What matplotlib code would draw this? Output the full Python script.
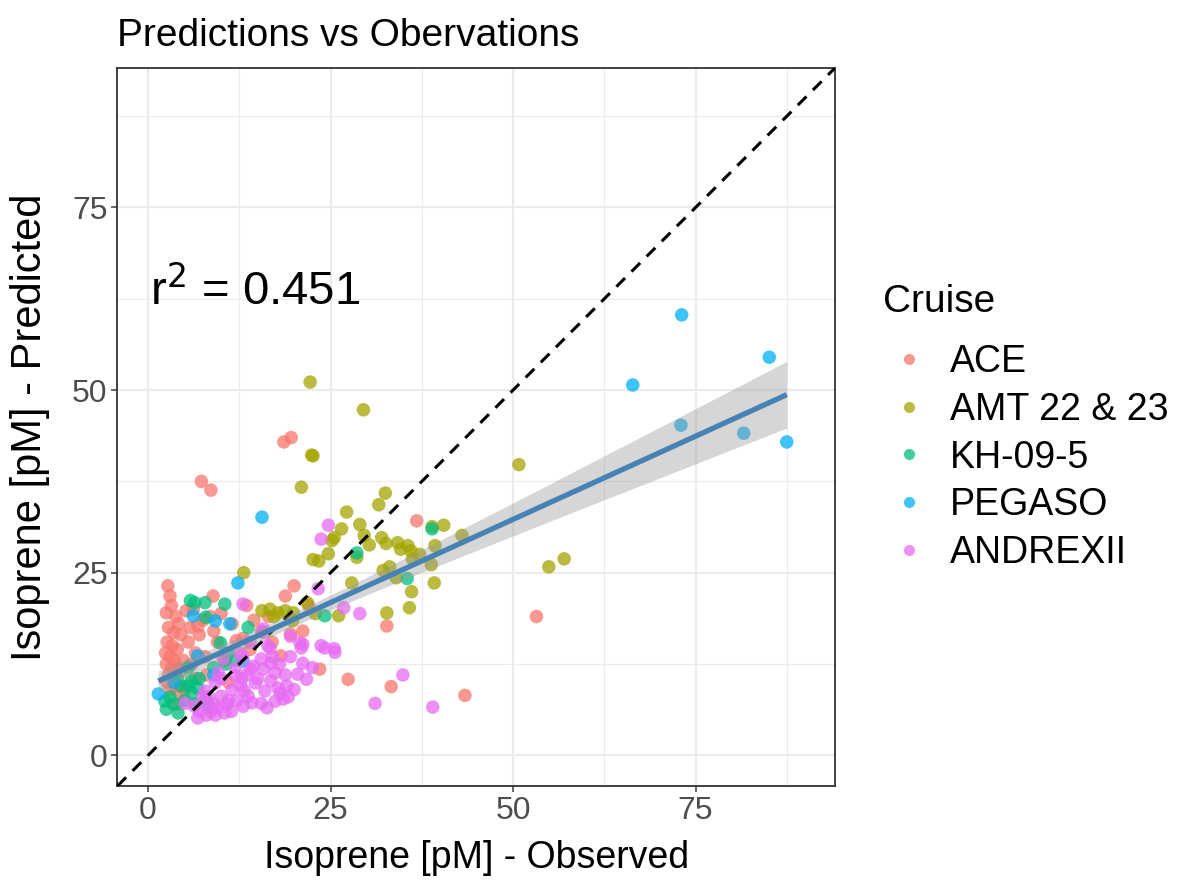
import numpy as np
import matplotlib
matplotlib.use("Agg")
import matplotlib.pyplot as plt
from matplotlib.lines import Line2D

plt.rcParams['font.family'] = ['Liberation Sans', 'DejaVu Sans']

cruises = ["ACE", "AMT 22 & 23", "KH-09-5", "PEGASO", "ANDREXII"]
colors = ["#F8766D", "#A3A500", "#00BF7D", "#00B0F6", "#E76BF3"]

ace_x = [2.7, 3.0, 3.2, 2.5, 3.8, 4.2, 2.8, 3.5, 4.5, 2.6, 3.3, 4.0, 2.4, 3.0, 3.6, 4.8, 2.5, 3.2, 4.0, 2.8,
         3.5, 4.5, 2.6, 3.8, 5.0, 4.2, 3.0, 5.5, 5.8, 6.2, 6.5, 5.2, 6.0, 7.0, 7.5, 8.9, 8.5, 9.0, 9.5, 7.8,
         10.0, 6.8, 11.5, 12.1, 13.0, 13.5, 14.5, 15.5, 17.0, 18.8, 20.0, 21.2, 19.5, 18.2, 23.5, 7.3, 8.6, 18.6, 19.6, 36.8,
         32.7, 27.4, 33.3, 43.4, 53.2, 4.1, 8.0, 10.5, 6.5, 11.0, 14.0, 16.5, 22.0]
ace_y = [23.2, 21.8, 20.5, 19.5, 19.0, 18.0, 17.5, 16.8, 16.5, 15.5, 15.0, 14.5, 14.0, 13.5, 13.0, 13.0, 12.5, 12.0, 12.0, 11.0,
         10.5, 11.5, 10.0, 9.5, 9.0, 8.5, 9.0, 15.5, 17.5, 20.0, 14.0, 19.8, 12.5, 16.5, 18.5, 21.8, 19.0, 17.0, 15.5, 13.5,
         19.4, 17.7, 18.0, 15.7, 16.0, 20.5, 18.5, 17.0, 15.5, 21.8, 23.2, 17.0, 16.6, 13.6, 11.8, 37.5, 36.3, 42.9, 43.5, 32.1,
         17.7, 10.4, 9.4, 8.2, 19.0, 7.0, 11.0, 13.0, 10.5, 10.0, 14.5, 19.0, 20.5]

amt_x = [29.5, 22.4, 22.6, 22.2, 21.0, 32.5, 31.6, 27.2, 29.0, 26.5, 25.5, 25.2, 29.6, 32.0, 32.6, 34.2, 35.6, 36.0, 24.7, 22.6,
         23.4, 28.6, 36.2, 38.9, 40.5, 39.3, 43.0, 38.8, 39.2, 32.2, 33.1, 34.0, 27.9, 36.1, 35.8, 32.7, 26.1, 21.8, 22.9, 50.8,
         54.9, 57.0, 13.1, 15.6, 16.7, 17.8, 18.8, 19.9, 19.8, 17.2, 34.6, 30.3, 37.2]
amt_y = [47.3, 41.1, 41.0, 51.1, 36.7, 35.9, 34.3, 33.3, 31.6, 31.0, 29.8, 29.4, 30.1, 29.8, 29.0, 29.1, 28.7, 28.0, 27.6, 26.8,
         26.6, 27.1, 26.9, 31.3, 31.5, 28.7, 30.1, 26.1, 23.6, 25.3, 25.8, 24.3, 23.6, 22.4, 20.2, 19.5, 19.1, 20.9, 19.4, 39.8,
         25.8, 26.9, 25.0, 19.8, 20.0, 19.5, 19.8, 19.5, 18.4, 19.0, 28.2, 28.8, 27.5]

kh_x = [5.8, 6.4, 7.8, 10.5, 7.9, 9.9, 13.7, 5.5, 10.7, 5.9, 6.8, 2.3, 2.5, 4.1, 7.9, 8.2, 28.6, 35.5, 38.9, 24.2,
        11.0, 12.0, 9.0, 3.0, 4.5, 6.0, 7.0, 3.5, 5.0, 6.5, 4.0, 5.5]
kh_y = [21.2, 20.9, 20.9, 20.7, 18.9, 15.4, 17.5, 12.0, 12.5, 10.2, 9.2, 7.4, 6.3, 5.8, 7.8, 6.7, 27.7, 24.2, 31.0, 19.1,
        14.0, 13.0, 12.0, 8.0, 9.5, 8.5, 10.5, 7.0, 7.5, 7.0, 10.5, 9.5]

peg_x = [15.6, 73.1, 85.1, 66.4, 73.0, 81.6, 87.5, 12.3, 6.2, 9.2, 11.2, 6.8, 1.4, 13.0, 9.0, 3.5]
peg_y = [32.6, 60.3, 54.5, 50.7, 45.2, 44.1, 42.9, 23.6, 19.1, 18.4, 18.0, 13.6, 8.4, 12.9, 11.0, 10.0]

and_x = [13.0, 15.8, 16.7, 23.3, 15.8, 19.5, 20.8, 23.7, 16.4, 24.7, 23.7, 26.8, 29.0, 21.2, 24.2, 25.5, 25.6, 34.9, 31.1, 39.0,
         21.0, 21.2, 20.5, 21.7, 15.5, 16.8, 14.4, 17.4, 16.8, 18.1, 18.5, 17.4, 15.5, 13.0, 11.4, 13.7, 12.7, 14.7, 16.0, 11.9,
         5.1, 6.4, 7.8, 9.2, 10.0, 8.6, 10.5, 6.8, 9.6, 10.3, 12.5, 13.5, 19.0, 18.0, 14.0, 11.0, 12.0, 19.5, 9.0, 22.5,
         8.0, 9.5, 10.8, 12.2, 13.2, 14.2, 15.0, 16.3, 17.8, 19.2, 11.5, 12.8, 14.0, 15.8, 10.0, 8.3, 17.0, 18.8, 20.0, 13.0,
         7.0, 8.0, 9.2, 7.5]
and_y = [20.7, 16.8, 14.7, 22.8, 17.3, 16.3, 15.4, 15.0, 15.0, 31.5, 29.6, 20.2, 19.4, 15.2, 14.7, 14.6, 14.1, 11.0, 7.1, 6.6,
         14.7, 12.6, 11.1, 10.4, 13.2, 12.6, 12.2, 11.3, 10.2, 8.5, 7.7, 7.4, 7.1, 6.7, 6.0, 8.1, 9.5, 9.9, 8.8, 10.9,
         7.1, 6.7, 8.8, 9.9, 8.1, 6.0, 5.8, 5.1, 11.3, 13.2, 14.0, 11.0, 9.5, 12.5, 15.5, 7.5, 12.0, 13.5, 7.0, 12.0,
         5.5, 6.5, 7.0, 7.5, 8.8, 7.2, 10.5, 6.5, 9.2, 8.0, 9.0, 10.5, 11.8, 11.8, 10.5, 8.0, 13.5, 11.0, 9.0, 13.5,
         6.0, 7.2, 5.5, 8.0]

r2_label = "r$^2$ = 0.451"

series_x = [ace_x, amt_x, kh_x, peg_x, and_x]
series_y = [ace_y, amt_y, kh_y, peg_y, and_y]

fig = plt.figure(figsize=(11.84, 8.83), dpi=100)
ax = fig.add_axes([0.0992, 0.1099, 0.6060, 0.8131])

lim = (-4.2, 94.1)
ax.set_xlim(lim)
ax.set_ylim(lim)

# grid
for v in [12.5, 37.5, 62.5, 87.5]:
    ax.axvline(v, color="#EBEBEB", lw=0.8, zorder=0)
    ax.axhline(v, color="#EBEBEB", lw=0.8, zorder=0)
for v in [0, 25, 50, 75]:
    ax.axvline(v, color="#EBEBEB", lw=1.6, zorder=0)
    ax.axhline(v, color="#EBEBEB", lw=1.6, zorder=0)

for xs, ys, c in zip(series_x, series_y, colors):
    ax.scatter(xs, ys, s=95, color=c, alpha=0.75, edgecolors="none", zorder=2)

# 1:1 line
ax.plot(lim, lim, color="black", ls=(0, (4, 3)), lw=2.2, zorder=3)

# linear fit + 95% CI
X = np.concatenate([np.array(a) for a in series_x])
Y = np.concatenate([np.array(a) for a in series_y])
n = len(X)
b, a = np.polyfit(X, Y, 1)
xx = np.linspace(X.min(), X.max(), 200)
yy = a + b * xx
resid = Y - (a + b * X)
s = np.sqrt(np.sum(resid ** 2) / (n - 2))
se = s * np.sqrt(1 / n + (xx - X.mean()) ** 2 / np.sum((X - X.mean()) ** 2))
t = 1.97
ax.fill_between(xx, yy - t * se, yy + t * se, color="#999999", alpha=0.4, lw=0, zorder=4)
ax.plot(xx, yy, color="#4682B4", lw=3.8, zorder=5, solid_capstyle="butt")

ax.text(0.2, 63.5, r2_label, fontsize=34, color="black", va="center", ha="left", zorder=6)

ax.set_xticks([0, 25, 50, 75])
ax.set_yticks([0, 25, 50, 75])
ax.tick_params(axis="both", labelsize=23, colors="#4D4D4D", length=4.5, width=1.2, pad=2.5)
for sp in ax.spines.values():
    sp.set_color("#333333")
    sp.set_linewidth(1.3)

ax.set_xlabel("Isoprene [pM] - Observed", fontsize=27, labelpad=10)
ax.set_ylabel("Isoprene [pM] - Predicted", fontsize=30)
ax.yaxis.set_label_coords(-0.094, 0.5)
ax.set_title("Predictions vs Obervations", fontsize=28, loc="left", pad=16, x=0.0)

# legend
fig.text(883 / 1184, 1 - 302 / 883, "Cruise", fontsize=28, ha="left", va="center")
handles = [Line2D([0], [0], marker="o", color="none", markerfacecolor=c, markeredgecolor="none",
                  markersize=8, alpha=0.75) for c in colors]
leg = fig.legend(handles, cruises, loc="upper left", bbox_to_anchor=(0.752, 0.610),
                 frameon=False, fontsize=27, handletextpad=0.6, labelspacing=0.31,
                 handlelength=1.0, borderaxespad=0, borderpad=0)

fig.savefig("out.png", dpi=100)
